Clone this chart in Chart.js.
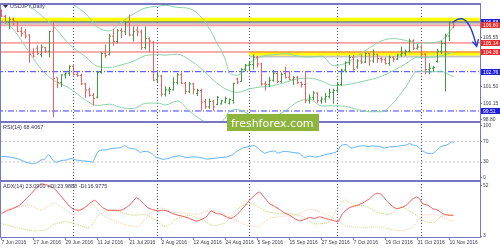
<!DOCTYPE html>
<html><head><meta charset="utf-8">
<script src="https://cdn.jsdelivr.net/npm/chart.js@4/dist/chart.umd.min.js"></script>
<style>html,body{margin:0;padding:0;background:#fff;overflow:hidden}canvas{display:block}</style>
</head><body>
<canvas id="c" width="500" height="250"></canvas>
<script>
// ---------- data ----------
const dateLabels = ['7 Jun 2016','17 Jun 2016','29 Jun 2016','11 Jul 2016','21 Jul 2016','2 Aug 2016','12 Aug 2016','24 Aug 2016','5 Sep 2016','15 Sep 2016','27 Sep 2016','7 Oct 2016','19 Oct 2016','31 Oct 2016','10 Nov 2016'];
const dateTickBars = [0,8,16,24,32,40,48,56,64,72,80,88,96,104,112];
const monthStartBars = [18,39,62,84,105];

const opens = [107.55,107.35,106.85,107.10,106.90,106.10,106.05,105.80,104.30,104.70,104.20,104.75,104.45,106.10,102.30,101.85,102.50,102.65,103.20,102.55,102.45,101.75,101.25,100.80,100.65,102.70,104.25,104.20,105.70,105.25,106.15,106.10,106.85,105.80,106.20,106.05,104.75,105.50,105.20,102.10,102.40,100.90,101.25,101.25,101.85,102.50,101.80,101.10,101.75,100.95,101.20,100.30,99.85,100.30,100.05,100.10,100.25,100.15,100.40,102.15,101.95,102.95,103.30,103.35,103.95,103.40,101.75,101.70,102.05,102.60,101.95,102.60,102.30,102.10,102.30,101.85,101.70,100.35,100.60,101.00,100.35,100.50,100.70,101.05,101.20,101.70,102.90,103.50,103.95,103.15,103.65,103.55,104.25,103.65,104.20,103.85,103.75,103.45,103.95,103.80,104.15,104.30,104.45,105.30,104.70,104.80,104.20,102.95,103.05,103.60,104.45,105.10,105.70,106.80];
const highs = [107.90,107.45,107.30,107.25,106.95,106.45,106.30,105.85,104.70,104.95,105.00,104.80,106.15,106.85,102.30,102.55,102.70,103.30,103.40,102.75,102.60,101.85,101.45,101.00,102.80,104.40,105.00,105.85,106.30,106.30,106.35,106.90,107.50,106.50,106.50,106.25,106.50,105.60,105.30,102.80,102.50,101.55,101.50,102.30,102.65,102.70,101.90,101.90,101.85,101.35,101.35,100.50,100.55,100.45,100.75,100.45,100.70,100.55,101.85,102.25,103.05,103.40,103.60,104.20,104.05,103.50,102.00,102.35,102.90,102.75,102.70,103.20,102.80,102.40,102.40,101.95,102.80,100.90,101.15,101.05,100.70,101.00,101.35,101.35,101.90,103.00,103.60,104.15,104.15,103.80,104.20,104.35,104.30,104.60,104.25,104.00,103.95,104.10,104.05,104.25,104.85,104.60,105.50,105.45,105.05,105.00,104.30,103.45,103.25,104.65,105.35,105.90,106.90,106.95];
const lows = [107.30,106.75,106.30,106.60,106.05,105.65,105.50,103.50,103.95,104.15,103.95,104.30,103.95,99.00,101.40,101.50,102.20,102.40,102.45,102.35,101.65,100.60,100.70,99.95,100.55,102.60,103.90,104.10,104.90,105.10,105.55,105.80,105.70,105.25,105.70,104.55,104.60,104.35,102.00,101.90,100.70,100.70,100.90,101.20,101.70,101.75,100.90,101.00,100.90,100.75,99.55,99.70,99.70,99.55,100.00,100.05,100.15,100.05,100.10,101.75,101.90,102.80,102.80,102.95,103.10,101.60,101.20,101.50,101.95,101.80,101.85,102.20,102.05,101.65,101.75,101.45,100.15,100.10,100.40,100.20,100.10,100.20,100.55,100.10,101.00,101.60,102.70,103.30,102.85,103.00,103.40,103.45,103.25,103.50,103.50,103.50,103.35,103.25,103.55,103.70,104.00,104.05,104.35,104.55,104.60,104.00,102.55,102.55,102.75,103.50,104.25,101.15,105.30,106.35];
const closes = [107.35,106.90,107.10,106.95,106.10,105.95,105.70,104.20,104.05,104.25,104.80,104.45,106.10,102.20,101.85,102.50,102.65,103.20,102.55,102.45,101.75,101.25,100.80,100.55,102.70,104.25,104.10,105.70,105.25,106.15,106.10,106.85,105.80,106.10,106.05,104.75,105.50,105.30,102.05,102.40,100.90,101.25,101.30,101.85,102.50,101.80,101.10,101.75,101.30,101.20,100.25,99.85,100.30,99.85,100.65,100.35,100.55,100.45,101.80,101.90,102.95,103.30,103.35,103.95,103.40,101.75,101.70,102.05,102.65,101.95,102.55,102.30,102.10,102.30,101.85,101.70,100.35,100.60,101.00,100.35,100.50,100.70,101.05,101.20,101.70,102.90,103.50,103.95,102.95,103.65,103.55,104.25,103.65,104.20,103.85,103.75,103.45,103.95,103.80,104.15,104.30,104.45,105.30,104.70,104.80,104.20,102.95,103.05,103.10,104.45,105.10,105.70,106.80,106.60];

// Bollinger bands, estimated as [bar position, price]
const bbUpper = [[0,111.5],[3,111.78],[7,112.1],[10,111.86],[13,111.0],[17,108.64],[21,107.59],[24,106.44],[27,106.14],[30,106.87],[33,107.55],[36,108.03],[39,108.17],[41,108.25],[44,108.08],[47,107.98],[50,107.24],[52,106.28],[53,105.72],[54,105.0],[55,104.5],[56,103.71],[57,102.64],[59,102.47],[62,103.48],[65,104.01],[68,104.17],[71,104.24],[74,104.06],[77,103.97],[80,104.05],[83,103.26],[86,103.45],[89,104.08],[92,104.73],[95,105.31],[98,105.5],[101,105.35],[104,105.11],[107,105.15],[110,105.33],[111,105.65],[112,106.1],[113,106.5]];
const bbMiddle = [[0,109.27],[3,109.01],[7,108.21],[10,107.4],[13,106.53],[17,105.02],[21,104.0],[24,103.2],[27,103.11],[30,103.33],[33,103.63],[36,104.09],[39,104.17],[41,104.13],[44,104.21],[47,103.74],[50,103.0],[53,102.06],[56,101.33],[59,101.05],[62,101.35],[65,101.5],[68,101.61],[71,101.89],[74,102.16],[77,102.23],[80,101.99],[83,101.6],[86,101.67],[89,101.86],[92,102.09],[95,102.38],[98,102.85],[101,103.41],[104,103.96],[107,103.95],[110,104.07],[113,104.42]];
const bbLower = [[0,107.03],[3,106.24],[7,104.32],[10,102.94],[13,102.06],[17,101.4],[21,100.41],[24,99.96],[27,100.08],[30,99.79],[33,99.71],[36,100.15],[39,100.17],[41,100.01],[44,100.34],[47,99.5],[50,98.77],[53,98.4],[56,98.95],[57,99.52],[59,99.63],[62,99.23],[65,98.99],[68,99.05],[71,99.54],[74,100.26],[77,100.49],[80,99.93],[83,99.94],[86,99.89],[89,99.64],[92,99.45],[95,99.45],[98,100.2],[101,101.47],[104,102.81],[107,102.74],[110,102.81],[111,102.65],[112,102.5],[113,102.34]];

const rsiValues = [[0,41.0],[2,39.8],[4.5,35.2],[6.2,29.4],[7.8,27.0],[8.7,28.2],[9.9,34.0],[10.75,35.2],[11.8,44.4],[12.8,34.0],[13.7,30.0],[14.9,32.8],[16.2,34.0],[17.4,36.9],[18.7,34.0],[20.3,32.3],[22,31.1],[22.8,30.0],[23.8,45.6],[24.5,52.6],[26.2,53.7],[27.4,56.0],[28.7,57.2],[29.9,58.3],[30.75,61.8],[31.8,57.2],[32.8,56.0],[33.7,54.3],[34.7,48.5],[35.3,50.2],[36.6,50.2],[37.7,45.6],[38.7,38.6],[39.5,38.0],[40.3,35.2],[41.6,36.9],[42.8,39.8],[44.5,42.1],[46.2,38.6],[47.8,39.8],[49.5,39.2],[51.2,35.8],[52.8,36.9],[54.5,38.6],[56.2,39.8],[57.8,44.4],[58.7,50.2],[60.3,57.2],[62,60.1],[63.25,61.8],[64.5,54.3],[65.75,47.3],[67,50.2],[68.25,51.4],[69.1,47.3],[70.3,50.2],[71.6,50.2],[72.8,48.5],[74.5,46.8],[75.75,38.6],[77,41.5],[78.25,39.8],[79.5,41.0],[80.75,43.9],[82.4,46.8],[83.7,49.7],[84.9,61.8],[86.2,64.1],[87.4,57.2],[88.7,59.5],[90.3,61.8],[91.6,60.1],[92.8,61.2],[94.5,60.1],[95.75,57.2],[97,59.5],[98.7,60.1],[99.9,61.8],[101.2,63.0],[102,65.9],[102.8,63.0],[103.7,61.8],[104.5,57.2],[105.3,51.4],[106.6,46.8],[107.8,46.8],[108.7,52.6],[109.9,60.1],[111.2,63.0],[112,65.9],[112.4,68.8],[113,68.4]];
const rsiLevels = [70, 30];

const adxValues = [[0,24.8],[1.2,27.3],[2.8,29.6],[4.5,32.8],[6.2,39.2],[7.8,45.6],[9.1,51.0],[9.9,53.6],[10.75,53.0],[12,51.7],[13.25,48.8],[14.5,43.4],[15.75,37.6],[17,31.8],[18.25,28.6],[19.5,28.0],[20.75,30.5],[22,34.4],[23.25,37.6],[24.1,35.0],[25.3,30.5],[26.6,28.0],[28.25,28.0],[29.9,28.0],[31.2,30.5],[32.4,34.4],[33.7,40.2],[34.5,38.2],[35.5,34.4],[36.6,30.5],[37.8,28.6],[39.1,27.3],[40.3,28.0],[41.6,27.0],[42.8,24.8],[44.1,23.2],[45.3,22.2],[47,20.0],[48.7,17.4],[49.9,19.0],[51.2,21.6],[52.4,27.3],[53.7,24.8],[54.9,24.2],[56.2,21.6],[57.4,20.0],[58.7,23.2],[59.9,28.0],[62,37.6],[63.25,42.4],[64.5,45.6],[65.75,40.2],[67,34.4],[68.25,31.8],[69.5,28.6],[70.75,25.4],[72,23.2],[73.25,20.0],[74.5,17.7],[75.75,19.0],[77,21.0],[78.25,20.0],[79.5,21.6],[80.75,20.3],[82,19.0],[83.25,17.7],[84.1,16.8],[85.3,24.8],[87,30.5],[88.7,32.5],[90.3,35.0],[92,39.2],[93.25,43.4],[94.1,44.6],[94.9,43.4],[96.2,37.6],[97.4,32.8],[98.7,29.6],[99.9,30.5],[101.2,32.8],[102.4,37.6],[103.7,40.8],[104.5,39.2],[105.3,34.4],[106.6,32.8],[107.8,29.6],[109.1,28.0],[110.3,24.8],[111.6,23.2],[113,23.09]];
const plusDiValues = [[0,15],[4,11],[8,8],[11,9],[13,14],[16,17],[19,14],[22,11],[24,22],[26,27],[28,28],[30,26],[33,23],[36,24],[39,17],[41,12],[44,20],[47,23],[50,19],[53,13],[56,16],[58,25],[60,32],[63,34],[66,27],[69,25],[72,25],[75,22],[78,15],[80,15],[82,17],[84,30],[86,38],[88,33],[91,32],[94,26],[97,24],[100,31],[103,25],[106,17],[108,16],[110,22],[112,24],[113,23.99]];
const minusDiValues = [[0,28],[4,31],[7,33],[10,28],[13,35],[15,31],[18,24],[21,31],[23,33],[25,24],[28,18],[31,14],[34,12],[36,20],[38,28],[40,30],[43,26],[46,25],[49,24],[52,28],[55,26],[58,19],[61,14],[64,12],[67,20],[70,22],[74,24],[77,29],[80,26],[83,20],[86,13],[90,11],[94,12],[98,9],[100,8],[103,12],[105,22],[108,24],[111,20],[113,16.98]];

// horizontal objects and axis labels
const priceTicks = [98.80, 100.15, 101.50, 105.55];
const rsiTicks = [0, 30, 70, 100];
const adxTicks = [3, 52];
const yellowZones = [{price: 107.05, fromBar: -1}, {price: 104.27, fromBar: 61.9}];
const redLevels = [106.60, 105.14, 104.39];
const blueSolidLevels = [106.88];
const blueDashLevels = [102.76, 99.51];
const blueTags = [106.88, 102.76, 99.51];
const redTags = [106.60, 105.14, 104.39];
const forecastPath = [[112.75,106.82],[114,107.08],[115,107.14],[116,107.0],[117,106.55],[117.8,105.95],[118.4,105.3],[118.8,104.85]];
const forecastHead = [[117.7,105.25],[118.8,104.85],[119.25,105.45]];

const titleText = 'USDJPY,Daily';
const rsiTitle = 'RSI(14) 68.4067';
const adxTitle = 'ADX(14) 23.0900 +DI:23.9888 -DI:16.9775';
const watermark = 'freshforex.com';

// ---------- styling ----------
const X_MIN = -0.125, X_MAX = 119.625;
const UP = '#3f9a3f', DOWN = '#ef5f5f';
const FRAME = '#7676c2';
const AXIS_TXT = '#3d3d55';
const FONT = 'Liberation Sans';

const pts = arr => arr.map(p => ({x: p[0], y: p[1]}));
const hline = (v, from) => [{x: from === undefined ? X_MIN - 1 : from, y: v}, {x: X_MAX + 1, y: v}];
const isUp = i => closes[i] >= opens[i];

const datasets = [];
datasets.push({type:'line', yAxisID:'y', data: pts(forecastPath), borderColor:'#1f3fd6', borderWidth:1.4, pointRadius:0, tension:0.45, order:0});
datasets.push({type:'line', yAxisID:'y', data: pts(forecastHead), borderColor:'#1f3fd6', borderWidth:1.4, pointRadius:0, tension:0, order:0});
datasets.push({type:'bar', yAxisID:'y', data: highs.map((h,i)=>({x:i, y:[lows[i], h]})),
  backgroundColor: c => isUp(c.dataIndex) ? UP : DOWN, borderWidth:0, barThickness:1, inflateAmount:0, grouped:false, order:1});
datasets.push({type:'line', yAxisID:'y', showLine:false, data: opens.map((o,i)=>({x:i-0.25, y:o})),
  pointStyle:'line', pointRadius:0.5, pointBorderWidth:1, pointHoverRadius:0,
  pointBorderColor: c => isUp(c.dataIndex) ? UP : DOWN, order:1});
datasets.push({type:'line', yAxisID:'y', showLine:false, data: closes.map((o,i)=>({x:i+0.25, y:o})),
  pointStyle:'line', pointRadius:0.5, pointBorderWidth:1, pointHoverRadius:0,
  pointBorderColor: c => isUp(c.dataIndex) ? UP : DOWN, order:1});
[bbUpper, bbMiddle, bbLower].forEach(b => datasets.push({type:'line', yAxisID:'y', data: pts(b), borderColor:'#8bd3a6', borderWidth:1, pointRadius:0, cubicInterpolationMode:'monotone', order:3}));
redLevels.forEach((v,k) => datasets.push({type:'line', yAxisID:'y', data: hline(v), borderColor: k===0 ? '#f3a0a0' : '#f05a5a', borderWidth: k===0 ? 2 : 1, pointRadius:0, order:4}));
blueSolidLevels.forEach(v => datasets.push({type:'line', yAxisID:'y', data: hline(v), borderColor:'#55558f', borderWidth:1, pointRadius:0, order:4}));
blueDashLevels.forEach(v => datasets.push({type:'line', yAxisID:'y', data: hline(v), borderColor:'#3b3bff', borderWidth:1, borderDash:[6,2,1,2], pointRadius:0, order:4}));
yellowZones.forEach(z => {
  datasets.push({type:'line', yAxisID:'y', data: hline(z.price, z.fromBar), borderColor:'#ffff00', borderWidth:4, pointRadius:0, order:5});
  datasets.push({type:'line', yAxisID:'y', data: hline(z.price - 0.26, z.fromBar), borderColor:'rgba(150,150,150,0.55)', borderWidth:2, pointRadius:0, order:6});
});
datasets.push({type:'line', yAxisID:'yRsi', data: pts(rsiValues), borderColor:'#5cb0f5', borderWidth:1, pointRadius:0, tension:0.2, order:1});
rsiLevels.forEach(v => datasets.push({type:'line', yAxisID:'yRsi', data: hline(v), borderColor:'#c9c9c9', borderWidth:1, borderDash:[2,2], pointRadius:0, order:5}));
datasets.push({type:'line', yAxisID:'yAdx', data: pts(adxValues), borderColor:'#f05454', borderWidth:1, pointRadius:0, tension:0.2, order:1});
datasets.push({type:'line', yAxisID:'yAdx', data: pts(plusDiValues), borderColor:'#c3d66a', borderWidth:1, borderDash:[1,1], pointRadius:0, tension:0.2, order:2});
datasets.push({type:'line', yAxisID:'yAdx', data: pts(minusDiValues), borderColor:'#f4cba3', borderWidth:1, borderDash:[1,1], pointRadius:0, tension:0.2, order:2});

const panelClip = {
  id:'panelClip',
  beforeDatasetDraw(chart, args) {
    const ds = chart.data.datasets[args.index];
    const s = chart.scales[ds.yAxisID || 'y'];
    const a = chart.chartArea, ctx = chart.ctx;
    ctx.save(); ctx.beginPath(); ctx.rect(a.left, s.top, a.right - a.left, s.bottom - s.top); ctx.clip();
  },
  afterDatasetDraw(chart) { chart.ctx.restore(); }
};

const decor = {
  id:'decor',
  beforeDatasetsDraw(chart) {
    const ctx = chart.ctx, a = chart.chartArea, x = chart.scales.x;
    ctx.save();
    ctx.strokeStyle = '#4c4c9c'; ctx.lineWidth = 1; ctx.setLineDash([1,2]);
    monthStartBars.forEach(b => {
      const px = Math.round(x.getPixelForValue(b - 0.25)) + 0.5;
      ctx.beginPath(); ctx.moveTo(px, a.top); ctx.lineTo(px, a.bottom); ctx.stroke();
    });
    ctx.restore();
  },
  afterDraw(chart) {
    const ctx = chart.ctx, a = chart.chartArea;
    const y = chart.scales.y, yr = chart.scales.yRsi;
    ctx.save();
    ctx.fillStyle = FRAME;
    ctx.fillRect(0, a.top - 1, a.right + 1, 2);
    ctx.fillRect(0, Math.round(y.bottom) - 1, a.right + 1, 2);
    ctx.fillRect(0, Math.round(yr.bottom) - 1, a.right + 1, 2);
    ctx.fillRect(0, a.bottom - 1, a.right + 1, 1);
    ctx.fillRect(a.right, a.top - 1, 1, a.bottom - a.top + 1);
    ctx.fillRect(0, a.top - 1, 1, a.bottom - a.top + 1);
    ctx.font = '5px "' + FONT + '"'; ctx.textBaseline = 'middle'; ctx.textAlign = 'left';
    const tag = (v, col) => {
      const py = y.getPixelForValue(v);
      ctx.fillStyle = col; ctx.fillRect(a.right + 1, Math.round(py) - 3, 19, 6);
      ctx.fillStyle = '#ffffff'; ctx.fillText(v.toFixed(2), a.right + 3, Math.round(py) + 0.5);
    };
    blueTags.forEach(v => tag(v, '#1f1fe0'));
    redTags.forEach(v => tag(v, '#ee2b2b'));
    ctx.fillStyle = '#2e2e5e';
    ctx.beginPath(); ctx.moveTo(3, 5); ctx.lineTo(8, 5); ctx.lineTo(5.5, 8); ctx.closePath(); ctx.fill();
    ctx.fillStyle = '#333355';
    ctx.font = '5.5px "' + FONT + '"'; ctx.textBaseline = 'middle';
    ctx.fillText(titleText, 10, 6.5);
    ctx.fillText(rsiTitle, 3, yr.top + 5);
    ctx.fillText(adxTitle, 3, chart.scales.yAdx.top + 5);
    ctx.fillStyle = '#8db43c';
    ctx.fillRect(227, y.bottom - 8, 92, 17);
    ctx.fillStyle = '#ffffff'; ctx.font = '11px "DejaVu Sans"'; ctx.textBaseline = 'alphabetic';
    ctx.fillText(watermark, 231, y.bottom + 5.5);
    ctx.restore();
  }
};

const axisFont = {family: FONT, size: 5};
const rightAxis = (weight, min, max, tickVals, fmt) => ({
  type:'linear', position:'right', stack:'panes', stackWeight: weight, min, max, offset:false, beginAtZero:false,
  grid:{display:true, drawOnChartArea:false, drawTicks:true, tickLength:2, color:FRAME},
  border:{display:false},
  ticks:{padding:1, font:axisFont, color:AXIS_TXT, callback: fmt},
  afterBuildTicks: s => { s.ticks = tickVals.map(v => ({value:v})); },
  afterFit: s => { s.width = 20; }
});

new Chart(document.getElementById('c'), {
  type:'line',
  data:{datasets},
  options:{
    responsive:false, animation:false, devicePixelRatio:1, events:[],
    layout:{padding:{left:1, top:2, right:0, bottom:0}, autoPadding:false},
    plugins:{legend:{display:false}, tooltip:{enabled:false}},
    scales:{
      x:{type:'linear', position:'bottom', min:X_MIN, max:X_MAX, offset:false,
        grid:{display:true, drawOnChartArea:false, drawTicks:true, tickLength:2, color:FRAME, offset:false},
        border:{display:false},
        ticks:{align:'start', maxRotation:0, autoSkip:false, padding:0, font:axisFont, color:AXIS_TXT,
          callback:(v, idx) => dateLabels[idx]},
        afterBuildTicks: s => { s.ticks = dateTickBars.map(v => ({value:v})); },
        afterFit: s => { s.height = 12; }},
      y: rightAxis(119, 98.60, 108.36, priceTicks, v => v.toFixed(2)),
      yRsi: rightAxis(60, -7.7, 107.7, rsiTicks, v => String(v)),
      yAdx: rightAxis(57, 1.08, 55.84, adxTicks, v => String(v))
    }
  },
  plugins:[panelClip, decor]
});
</script>
</body></html>
